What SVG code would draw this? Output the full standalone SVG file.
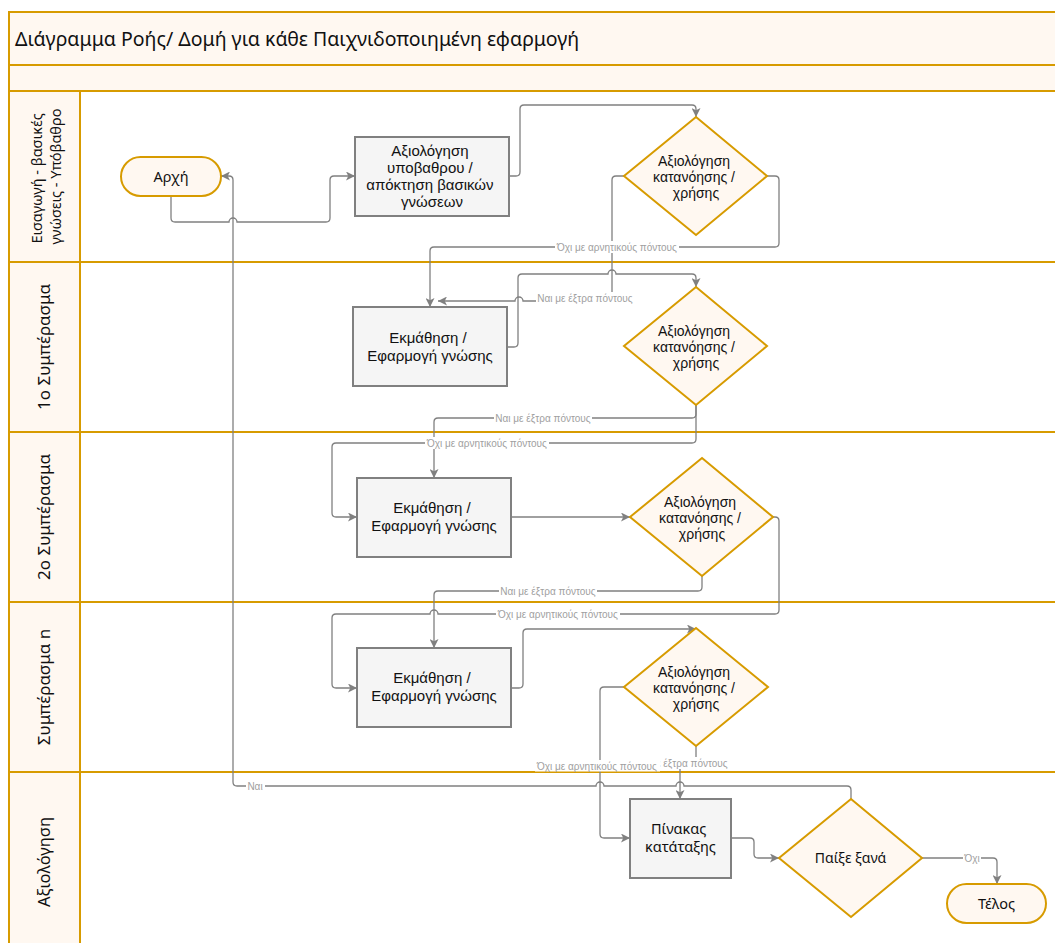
<svg xmlns="http://www.w3.org/2000/svg" width="1055" height="943" viewBox="0 0 1055 943">
  <style>
    .lane { fill: #fff8f1; stroke: #d79b00; stroke-width: 2; }
    .body { fill: #ffffff; stroke: #d79b00; stroke-width: 2; }
    .term { fill: #fff8f1; stroke: #d79b00; stroke-width: 2; }
    .proc { fill: #f5f5f5; stroke: #808080; stroke-width: 2; }
    .dec { fill: #fff8f1; stroke: #d79b00; stroke-width: 2; }
    .edge { fill: none; stroke: #808080; stroke-width: 1.3; }
    .arrow { marker-end: url(#head); }
    .hum { font-family: "Noto Sans", "Open Sans", sans-serif; fill: #111; }
    .sans { font-family: "Liberation Sans", Arial, sans-serif; fill: #111; }
    .lbl { font-family: "Liberation Sans", Arial, sans-serif; font-size: 10px; fill: #a0a0a0; text-anchor: middle; }
    .lblbg { fill: #ffffff; }
    .c { text-anchor: middle; }
  </style>
  <defs>
    <marker id="head" viewBox="0 0 10 10" refX="10" refY="5" markerWidth="9" markerHeight="9" markerUnits="userSpaceOnUse" orient="auto">
      <path d="M0,0 L10,5 L0,10 L2.5,5 z" fill="#808080"/>
    </marker>
    <clipPath id="behind-no-label">
      <rect x="660" y="750" width="100" height="30"/>
    </clipPath>
  </defs>

  <rect width="1055" height="943" fill="#ffffff"/>

  <!-- pool header and lanes -->
  <g id="pool">
    <rect class="lane" x="9" y="12" width="1060" height="53"/>
    <rect class="lane" x="9" y="65" width="1060" height="26"/>
    <text class="hum" x="15" y="45.5" font-size="19.5">Διάγραμμα Ροής/ Δομή για κάθε Παιχνιδοποιημένη εφαρμογή</text>
  </g>

  <g id="lane-intro">
    <rect class="lane" x="9" y="91" width="71" height="171"/>
    <rect class="body" x="80" y="91" width="990" height="171"/>
    <text class="hum c" font-size="14.5" transform="translate(42,176.5) rotate(-90)">
      <tspan x="0" y="0">Εισαγωγή - βασικές</tspan>
      <tspan x="0" y="19">γνώσεις - Υπόβαθρο</tspan>
    </text>
  </g>
  <g id="lane-1">
    <rect class="lane" x="9" y="262" width="71" height="170"/>
    <rect class="body" x="80" y="262" width="990" height="170"/>
    <text class="hum c" font-size="17" transform="translate(50,347) rotate(-90)">1ο Συμπέρασμα</text>
  </g>
  <g id="lane-2">
    <rect class="lane" x="9" y="432" width="71" height="170"/>
    <rect class="body" x="80" y="432" width="990" height="170"/>
    <text class="hum c" font-size="17" transform="translate(50,517) rotate(-90)">2ο Συμπέρασμα</text>
  </g>
  <g id="lane-n">
    <rect class="lane" x="9" y="602" width="71" height="170"/>
    <rect class="body" x="80" y="602" width="990" height="170"/>
    <text class="hum c" font-size="17" transform="translate(50,687) rotate(-90)">Συμπέρασμα n</text>
  </g>
  <g id="lane-eval">
    <rect class="lane" x="9" y="772" width="71" height="180"/>
    <rect class="body" x="80" y="772" width="990" height="180"/>
    <text class="hum c" font-size="16.5" transform="translate(50,862) rotate(-90)">Αξιολόγηση</text>
  </g>

  <!-- connectors -->
  <g id="connectors">
    <path class="edge arrow" d="M171,196 V218 Q171,222 175,222 H229 A4,4 0 0 1 237,222 H326 Q330,222 330,218 V180 Q330,176 334,176 H355"/>
    <path class="edge arrow" d="M509,176 H516 Q520,176 520,172 V109 Q520,105 524,105 H692 Q696,105 696,109 V117"/>
    <path class="edge arrow" d="M767,176 H775 Q779,176 779,180 V243 Q779,247 775,247 H434 Q430,247 430,251 V307"/>
    <path class="edge arrow" d="M624,176 H616 Q612,176 612,180 V297 Q612,301 608,301 H523 A4,4 0 0 0 515,301 H438"/>
    <path class="edge arrow" d="M507,347 H514 Q518,347 518,343 V278 Q518,274 522,274 H608 A4,4 0 0 1 616,274 H692 Q696,274 696,278 V287"/>
    <path class="edge arrow" d="M696,405 V414 Q696,418 692,418 H438 Q434,418 434,422 V478"/>
    <path class="edge arrow" d="M696,405 V439 Q696,443 692,443 H336 Q332,443 332,447 V513 Q332,517 336,517 H357"/>
    <path class="edge arrow" d="M511,517 H630"/>
    <path class="edge arrow" d="M773,517 H775 Q779,517 779,521 V610 Q779,614 775,614 H438 A4,4 0 0 0 430,614 H336 Q332,614 332,618 V684 Q332,688 336,688 H357"/>
    <path class="edge arrow" d="M702,576 V587 Q702,591 698,591 H438 Q434,591 434,595 V648"/>
    <path class="edge arrow" d="M511,688 H519 Q523,688 523,684 V633 Q523,629 527,629 H696"/>
    <path class="edge arrow" d="M624,687 H604 Q600,687 600,691 V834 Q600,838 604,838 H630"/>
    <path class="edge arrow" d="M696,746 V759 Q696,763 692,763 H684 Q680,763 680,767 V799"/>
    <path class="edge arrow" d="M851,799 V790 Q851,786 847,786 H684 A4,4 0 0 0 676,786 H604 A4,4 0 0 0 596,786 H237 Q233,786 233,782 V180 Q233,176 229,176 H221"/>
    <path class="edge arrow" d="M731,838 H750 Q754,838 754,842 V854 Q754,858 758,858 H779"/>
    <path class="edge arrow" d="M922,858 H993 Q997,858 997,862 V884"/>

    <!-- connector labels -->
    <rect class="lblbg" x="555" y="241" width="124" height="12"/>
    <text class="lbl" x="617" y="250.5">Όχι με αρνητικούς πόντους</text>
    <rect class="lblbg" x="536" y="292" width="98" height="12"/>
    <text class="lbl" x="585" y="301.5">Ναι με έξτρα πόντους</text>
    <rect class="lblbg" x="494" y="412" width="98" height="12"/>
    <text class="lbl" x="543" y="421.5">Ναι με έξτρα πόντους</text>
    <rect class="lblbg" x="425" y="437" width="124" height="12"/>
    <text class="lbl" x="487" y="446.5">Όχι με αρνητικούς πόντους</text>
    <rect class="lblbg" x="499" y="585" width="98" height="12"/>
    <text class="lbl" x="548" y="594.5">Ναι με έξτρα πόντους</text>
    <rect class="lblbg" x="496" y="608" width="124" height="12"/>
    <text class="lbl" x="558" y="617.5">Όχι με αρνητικούς πόντους</text>
    <!-- the "yes" label here sits partly under the "no" label beside it -->
    <g clip-path="url(#behind-no-label)">
      <rect class="lblbg" x="631" y="757" width="98" height="12"/>
      <text class="lbl" x="680" y="766.5">Ναι με έξτρα πόντους</text>
    </g>
    <rect class="lblbg" x="535" y="760" width="125" height="11.5"/>
    <text class="lbl" x="597" y="770">Όχι με αρνητικούς πόντους</text>
    <rect class="lblbg" x="246" y="780" width="19" height="12"/>
    <text class="lbl" x="255" y="789.5">Ναι</text>
    <rect class="lblbg" x="963" y="852" width="18" height="12"/>
    <text class="lbl" x="972" y="861.5">Όχι</text>
  </g>

  <!-- nodes -->
  <g id="start">
    <rect class="term" x="121" y="157" width="100" height="39" rx="19.5"/>
    <text class="hum c" x="171" y="181.5" font-size="14.5">Αρχή</text>
  </g>
  <g id="background-assessment">
    <rect class="proc" x="355" y="137" width="154" height="79"/>
    <text class="sans c" font-size="15">
      <tspan x="432" y="156">Αξιολόγηση</tspan>
      <tspan x="432" y="173">υποβαθρου /</tspan>
      <tspan x="432" y="190">απόκτηση βασικών</tspan>
      <tspan x="432" y="207">γνώσεων</tspan>
    </text>
  </g>
  <g id="check-intro">
    <polygon class="dec" points="696,117 767,176 696,235 624,176"/>
    <text class="sans c" font-size="14">
      <tspan x="696" y="166">Αξιολόγηση</tspan>
      <tspan x="696" y="182">κατανόησης /</tspan>
      <tspan x="696" y="198">χρήσης</tspan>
    </text>
  </g>
  <g id="learn-1">
    <rect class="proc" x="353" y="307" width="154" height="79"/>
    <text class="sans c" font-size="15">
      <tspan x="430" y="343">Εκμάθηση /</tspan>
      <tspan x="430" y="361">Εφαρμογή γνώσης</tspan>
    </text>
  </g>
  <g id="check-1">
    <polygon class="dec" points="696,287 767,346 696,405 624,346"/>
    <text class="sans c" font-size="14">
      <tspan x="696" y="336">Αξιολόγηση</tspan>
      <tspan x="696" y="352">κατανόησης /</tspan>
      <tspan x="696" y="368">χρήσης</tspan>
    </text>
  </g>
  <g id="learn-2">
    <rect class="proc" x="357" y="478" width="154" height="79"/>
    <text class="sans c" font-size="15">
      <tspan x="434" y="513">Εκμάθηση /</tspan>
      <tspan x="434" y="531">Εφαρμογή γνώσης</tspan>
    </text>
  </g>
  <g id="check-2">
    <polygon class="dec" points="702,458 773,517 702,576 630,517"/>
    <text class="sans c" font-size="14">
      <tspan x="702" y="507">Αξιολόγηση</tspan>
      <tspan x="702" y="523">κατανόησης /</tspan>
      <tspan x="702" y="539">χρήσης</tspan>
    </text>
  </g>
  <g id="learn-n">
    <rect class="proc" x="357" y="648" width="154" height="79"/>
    <text class="sans c" font-size="15">
      <tspan x="434" y="683">Εκμάθηση /</tspan>
      <tspan x="434" y="701">Εφαρμογή γνώσης</tspan>
    </text>
  </g>
  <g id="check-n">
    <polygon class="dec" points="696,628 768,687 696,746 624,687"/>
    <text class="sans c" font-size="14">
      <tspan x="696" y="677">Αξιολόγηση</tspan>
      <tspan x="696" y="693">κατανόησης /</tspan>
      <tspan x="696" y="709">χρήσης</tspan>
    </text>
  </g>
  <g id="leaderboard">
    <rect class="proc" x="630" y="799" width="101" height="79"/>
    <text class="hum c" font-size="14.5">
      <tspan x="680.5" y="834">Πίνακας</tspan>
      <tspan x="680.5" y="852">κατάταξης</tspan>
    </text>
  </g>
  <g id="play-again">
    <polygon class="dec" points="851,799 922,858 851,917 779,858"/>
    <text class="hum c" x="850.5" y="863" font-size="14">Παίξε ξανά</text>
  </g>
  <g id="end">
    <rect class="term" x="947" y="884" width="99" height="39" rx="19.5"/>
    <text class="hum c" x="996.5" y="908.5" font-size="14.5">Τέλος</text>
  </g>
</svg>
